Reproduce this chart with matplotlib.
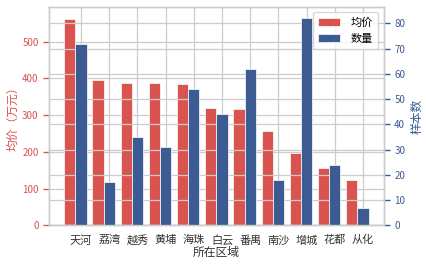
import numpy as np
import matplotlib
matplotlib.use("Agg")
import matplotlib.pyplot as plt

plt.rcParams['font.family'] = ['Noto Sans CJK SC', 'DejaVu Sans']
plt.rcParams['axes.unicode_minus'] = False

districts = ['天河', '荔湾', '越秀', '黄埔', '海珠', '白云', '番禺', '南沙', '增城', '花都', '从化']
avg_price = [562, 396, 387, 387, 384, 319, 317, 257, 197, 156, 123]
count = [72, 17, 35, 31, 54, 44, 62, 18, 82, 24, 7]

red = '#d9534f'
blue = '#3b5b92'
grid_c = '#cccccc'

fig = plt.figure(figsize=(4.26, 2.67), dpi=100)
ax1 = fig.add_axes([0.115, 0.156, 0.786, 0.819])
ax2 = ax1.twinx()

x = np.arange(len(districts))
b1 = ax1.bar(x - 0.4, avg_price, width=0.4, color=red, edgecolor='white', linewidth=0.5, label='均价')
b2 = ax2.bar(x, count, width=0.4, color=blue, edgecolor='white', linewidth=0.5, label='数量')

ax1.set_xticks(x)
ax1.set_xticklabels(districts, fontsize=8, color='#333333')
ax1.set_xlabel('所在区域', fontsize=8.5, color='#333333', labelpad=0)
ax1.set_ylabel('均价（万元）', fontsize=8.5, color=red, labelpad=2)
ax2.set_ylabel('样本数', fontsize=8.5, color=blue, labelpad=4)

ax1.tick_params(axis='y', colors=red, labelsize=7, length=4, width=1)
ax1.tick_params(axis='x', length=0, pad=7)
ax2.tick_params(axis='y', colors=blue, labelsize=7, length=4, width=1)

for ax in (ax1, ax2):
    ax.set_axisbelow(True)
    ax.grid(True, color=grid_c, linewidth=0.9)
    for s in ax.spines.values():
        s.set_color(grid_c)
        s.set_linewidth(1)
ax2.grid(axis='x', visible=False)

ax1.set_zorder(ax2.get_zorder() - 1)
ax2.patch.set_visible(False)
ax1.set_xlim(-1.14, 10.74)
ax1.set_ylim(0, 595)
ax2.set_ylim(0, 86.6)

ax2.legend([b1, b2], ['均价', '数量'], loc='upper right', fontsize=8,
           frameon=True, edgecolor=grid_c, handlelength=2.0, borderpad=0.5,
           handletextpad=0.9)

fig.savefig('out.png', dpi=100)
